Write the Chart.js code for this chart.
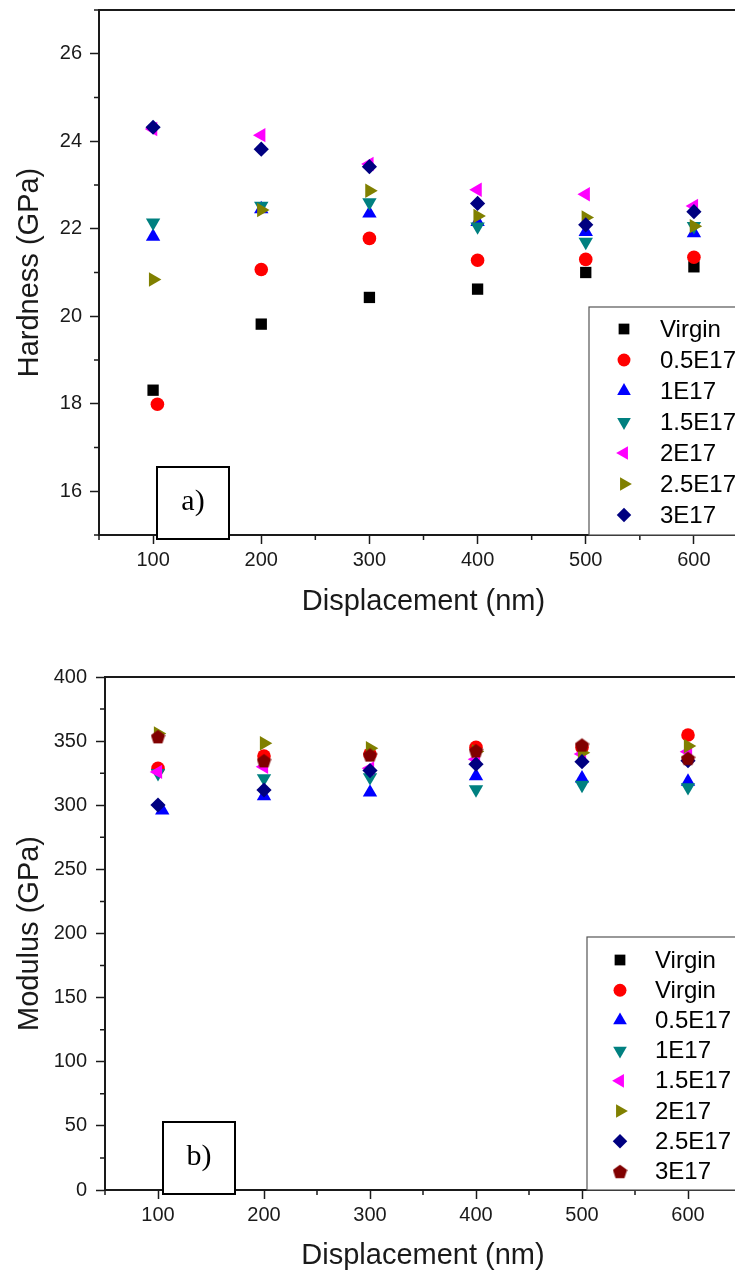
<!DOCTYPE html>
<html>
<head>
<meta charset="utf-8">
<title>Hardness and modulus vs displacement</title>
<script src="https://cdn.jsdelivr.net/npm/chart.js@4.4.1/dist/chart.umd.min.js"></script>
<style>
    html, body { margin: 0; padding: 0; background: #fff; overflow: hidden; }
    #page { position: relative; width: 735px; height: 1273px; overflow: hidden; }
    #page canvas { position: absolute; left: 0; }
    #hardnessChart { top: -10px; }
    #modulusChart { top: 650px; }
</style>
</head>
<body>
<div id="page">
    <canvas id="hardnessChart" width="760" height="650"></canvas>
    <canvas id="modulusChart" width="760" height="623"></canvas>
</div>
<script>
// --- Ejes comunes ---
const displacement = [100, 200, 300, 400, 500, 600];
const xTicks = [100, 200, 300, 400, 500, 600];
const xMinor = [50, 150, 250, 350, 450, 550, 650];

// --- a) Dureza (GPa) ---
const hardNames = ['Virgin', '0.5E17', '1E17', '1.5E17', '2E17', '2.5E17', '3E17'];
const hardVirgin = [18.31, 19.82, 20.43, 20.62, 21.00, 21.13];
const hard05E17X = [104, 200, 300, 400, 500, 600];
const hard05E17 = [17.99, 21.07, 21.78, 21.28, 21.30, 21.35];
const hard1E17 = [21.82, 22.45, 22.35, 22.16, 21.93, 21.90];
const hard15E17 = [22.14, 22.52, 22.60, 22.05, 21.70, 22.06];
const hard2E17 = [24.28, 24.14, 23.48, 22.89, 22.79, 22.52];
const hard25E17 = [20.84, 22.43, 22.87, 22.29, 22.26, 22.06];
const hard3E17 = [24.32, 23.82, 23.42, 22.58, 22.09, 22.39];
const hardTicks = [16, 18, 20, 22, 24, 26];
const hardMinor = [15, 17, 19, 21, 23, 25, 27];

// --- b) Módulo (GPa) ---
const modNames = ['Virgin', 'Virgin', '0.5E17', '1E17', '1.5E17', '2E17', '2.5E17', '3E17'];
const modVirginSq = [];
const modVirgin = [328.8, 338.4, 340.0, 345.2, 345.0, 354.8];
const mod05E17X = [104, 200, 300, 400, 500, 600];
const mod05E17 = [296.0, 307.2, 310.0, 322.8, 321.0, 318.4];
const mod1E17 = [325.0, 321.0, 321.8, 312.4, 315.8, 314.0];
const mod15E17 = [326.0, 330.0, 328.8, 335.8, 340.0, 341.8];
const mod2E17 = [356.0, 348.3, 344.4, 342.0, 341.0, 346.2];
const mod25E17 = [300.2, 311.9, 327.0, 332.0, 334.0, 334.7];
const mod3E17 = [353.5, 334.7, 339.2, 342.5, 347.0, 336.6];
const modTicks = [0, 50, 100, 150, 200, 250, 300, 350, 400];
const modMinor = [25, 75, 125, 175, 225, 275, 325, 375];

const FONT = "'Liberation Sans', Arial, sans-serif";
const INK = '#1a1a1a';

// Pentágono dibujado en un canvas pequeño para usarlo como pointStyle
function pentagono(size, color) {
    const c = document.createElement('canvas');
    c.width = c.height = size;
    const g = c.getContext('2d');
    const r = size / 2;
    const dy = r * 0.095;
    g.fillStyle = color;
    g.beginPath();
    for (let k = 0; k < 5; k++) {
        const a = -Math.PI / 2 + k * 2 * Math.PI / 5;
        g.lineTo(r + r * Math.cos(a), r + dy + r * Math.sin(a));
    }
    g.closePath();
    g.fill();
    return c;
}

// Estilos de marcador (estilo Origin)
const MARKERS = {
    square:   { pointStyle: 'rect', rotation: 0, radius: 8 },
    circle:   { pointStyle: 'circle', rotation: 0, radius: 6.8 },
    up:       { pointStyle: 'triangle', rotation: 0, radius: 8.3 },
    down:     { pointStyle: 'triangle', rotation: 180, radius: 8.3 },
    left:     { pointStyle: 'triangle', rotation: -90, radius: 8.3 },
    right:    { pointStyle: 'triangle', rotation: 90, radius: 8.3 },
    diamond:  { pointStyle: 'rectRot', rotation: 0, radius: 7.6 },
    pentagon: { pointStyle: pentagono(15, '#800000'), rotation: 0, radius: 7.5 }
};

function serie(name, xs, ys, color, marker) {
    return { name, xs, ys, color, marker: MARKERS[marker] };
}

const hardSeries = [
    serie(hardNames[0], displacement, hardVirgin, '#000000', 'square'),
    serie(hardNames[1], hard05E17X, hard05E17, '#ff0000', 'circle'),
    serie(hardNames[2], displacement, hard1E17, '#0000ff', 'up'),
    serie(hardNames[3], displacement, hard15E17, '#008080', 'down'),
    serie(hardNames[4], displacement, hard2E17, '#ff00ff', 'left'),
    serie(hardNames[5], displacement, hard25E17, '#808000', 'right'),
    serie(hardNames[6], displacement, hard3E17, '#000080', 'diamond')
];

const modSeries = [
    serie(modNames[0], displacement, modVirginSq, '#000000', 'square'),
    serie(modNames[1], displacement, modVirgin, '#ff0000', 'circle'),
    serie(modNames[2], mod05E17X, mod05E17, '#0000ff', 'up'),
    serie(modNames[3], displacement, mod1E17, '#008080', 'down'),
    serie(modNames[4], displacement, mod15E17, '#ff00ff', 'left'),
    serie(modNames[5], displacement, mod2E17, '#808000', 'right'),
    serie(modNames[6], displacement, mod25E17, '#000080', 'diamond'),
    serie(modNames[7], displacement, mod3E17, '#800000', 'pentagon')
];

/**
 * Marco, ticks menores, leyenda en caja y etiqueta del panel
 */
const panelPlugin = {
    id: 'panel',
    afterDraw(chart, args, opts) {
        const ctx = chart.ctx;
        const area = chart.chartArea;
        const xs = chart.scales.x;
        const ys = chart.scales.y;
        ctx.save();

        // marco superior y derecho
        ctx.strokeStyle = INK;
        ctx.lineWidth = 2;
        ctx.beginPath();
        ctx.moveTo(area.left - 1, area.top);
        ctx.lineTo(area.right, area.top);
        ctx.lineTo(area.right, area.bottom);
        ctx.stroke();

        // ticks menores
        ctx.lineWidth = 1.5;
        ctx.beginPath();
        opts.xMinor.forEach(v => {
            const px = xs.getPixelForValue(v);
            ctx.moveTo(px, area.bottom);
            ctx.lineTo(px, area.bottom + 5);
        });
        opts.yMinor.forEach(v => {
            const py = ys.getPixelForValue(v);
            ctx.moveTo(area.left, py);
            ctx.lineTo(area.left - 5, py);
        });
        ctx.stroke();

        // leyenda
        const lg = opts.legend;
        ctx.fillStyle = '#fff';
        ctx.fillRect(lg.left, lg.top, chart.width - lg.left + 5, area.bottom - lg.top);
        ctx.strokeStyle = '#555';
        ctx.lineWidth = 1.2;
        ctx.strokeRect(lg.left, lg.top, chart.width - lg.left + 5, area.bottom - lg.top);
        ctx.font = '24px ' + FONT;
        ctx.textBaseline = 'middle';
        ctx.textAlign = 'left';
        opts.series.forEach((s, i) => {
            const y = lg.first + i * lg.gap;
            ctx.fillStyle = s.color;
            Chart.helpers.drawPoint(ctx, {
                pointStyle: s.marker.pointStyle,
                rotation: s.marker.rotation,
                radius: s.marker.radius * 0.95,
                borderWidth: 0
            }, lg.symbolX, y);
            ctx.fillStyle = '#000';
            ctx.fillText(s.name, lg.textX, y + 1);
        });

        // etiqueta del panel
        const tag = opts.tag;
        const bx = area.left + 58;
        const by = area.bottom + 4 - 72;
        ctx.fillStyle = '#fff';
        ctx.fillRect(bx, by, 72, 72);
        ctx.strokeStyle = '#000';
        ctx.lineWidth = 2;
        ctx.strokeRect(bx, by, 72, 72);
        ctx.fillStyle = '#000';
        ctx.font = "30px 'Liberation Serif', 'Times New Roman', serif";
        ctx.textAlign = 'center';
        ctx.fillText(tag, bx + 36, by + 35);

        ctx.restore();
    }
};

function crearGrafica(canvasId, cfg) {
    const el = document.getElementById(canvasId);
    const n = cfg.series.length;
    return new Chart(el.getContext('2d'), {
        type: 'scatter',
        data: {
            datasets: cfg.series.map((s, i) => ({
                label: s.name,
                data: s.ys.map((v, j) => ({ x: s.xs[j], y: v })),
                pointBackgroundColor: s.color,
                backgroundColor: s.color,
                pointBorderWidth: 0,
                pointStyle: s.marker.pointStyle,
                pointRotation: s.marker.rotation,
                pointRadius: s.marker.radius,
                pointHoverRadius: s.marker.radius,
                showLine: false,
                order: n - i
            }))
        },
        plugins: [panelPlugin],
        options: {
            responsive: false,
            animation: false,
            events: [],
            layout: { padding: cfg.padding },
            plugins: {
                legend: { display: false },
                tooltip: { enabled: false },
                panel: {
                    xMinor: xMinor,
                    yMinor: cfg.yMinor,
                    series: cfg.series,
                    legend: cfg.legend,
                    tag: cfg.tag
                }
            },
            scales: {
                x: {
                    type: 'linear',
                    min: 50,
                    max: 650,
                    afterBuildTicks: s => { s.ticks = xTicks.map(v => ({ value: v })); },
                    afterFit: s => { s.height = cfg.xHeight; },
                    border: { display: true, color: INK, width: 2 },
                    grid: { drawOnChartArea: false, drawTicks: true, tickLength: 9, tickColor: INK, tickWidth: 1.5 },
                    ticks: { color: INK, padding: 4, maxRotation: 0, autoSkip: false, font: { family: FONT, size: 20 } },
                    title: {
                        display: true,
                        text: 'Displacement (nm)',
                        color: INK,
                        font: { family: FONT, size: 29, weight: 'normal' },
                        padding: { top: 0, bottom: cfg.xTitlePad }
                    }
                },
                y: {
                    type: 'linear',
                    min: cfg.yMin,
                    max: cfg.yMax,
                    afterBuildTicks: s => { s.ticks = cfg.yTicks.map(v => ({ value: v })); },
                    afterFit: s => { s.width = cfg.yWidth; },
                    border: { display: true, color: INK, width: 2 },
                    grid: { drawOnChartArea: false, drawTicks: true, tickLength: 9, tickColor: INK, tickWidth: 1.5 },
                    ticks: { color: INK, padding: cfg.yTickPad, font: { family: FONT, size: 20 } },
                    title: {
                        display: true,
                        text: cfg.yTitle,
                        color: INK,
                        font: { family: FONT, size: 29, weight: 'normal' },
                        padding: { top: 13, bottom: 0 }
                    }
                }
            }
        }
    });
}

crearGrafica('hardnessChart', {
    series: hardSeries,
    yMin: 15, yMax: 27,
    yTicks: hardTicks,
    yMinor: hardMinor,
    yTitle: 'Hardness (GPa)',
    padding: { top: 20, right: 12, bottom: 0, left: 0 },
    xHeight: 105,
    yWidth: 99,
    xTitlePad: 21,
    yTickPad: 8,
    tag: 'a)',
    legend: { left: 589, top: 317, first: 339, gap: 31, symbolX: 624, textX: 660 }
});

crearGrafica('modulusChart', {
    series: modSeries,
    yMin: 0, yMax: 400,
    yTicks: modTicks,
    yMinor: modMinor,
    yTitle: 'Modulus (GPa)',
    padding: { top: 27, right: 19, bottom: 0, left: 0 },
    xHeight: 83,
    yWidth: 105,
    xTitlePad: 0,
    yTickPad: 9,
    tag: 'b)',
    legend: { left: 587, top: 287, first: 310, gap: 30.2, symbolX: 620, textX: 655 }
});
</script>
</body>
</html>
